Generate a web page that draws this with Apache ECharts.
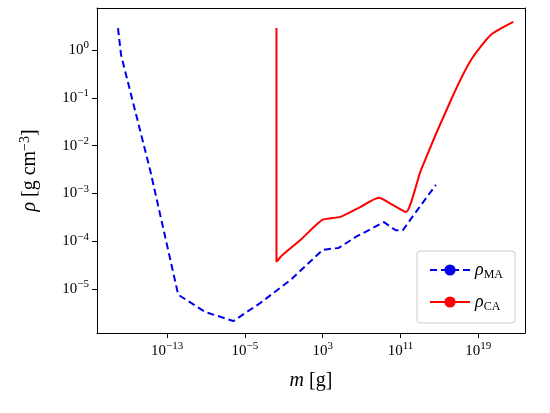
<!DOCTYPE html>
<html>
<head>
<meta charset="UTF-8">
<script src="https://cdn.jsdelivr.net/npm/echarts@6/dist/echarts.min.js"></script>
<style>html,body{margin:0;padding:0;background:#fff}</style>
</head>
<body>
<div id="main" style="width:550px;height:413px;"></div>
<script>
// exponents: log10(m [g]) and log10(rho [g cm^-3])
var maLogM = [-18.04, -17.73, -14.74, -11.85, -9.07, -6.18, -3.40, -0.30, 3.0, 4.64, 6.4, 9.3, 10.5, 11.24, 12.58, 14.64];
var maLogRho = [0.46, -0.10, -2.51, -5.12, -5.48, -5.67, -5.29, -4.81, -4.18, -4.14, -3.91, -3.60, -3.77, -3.77, -3.39, -2.82];
var caLogM = [-1.75, -1.75, -1.13, 0.73, 3.0, 4.85, 6.9, 8.77, 10.2, 11.55, 13.1, 16.2, 18.25, 20.3, 22.6];
var caLogRho = [0.46, -4.43, -4.29, -3.97, -3.55, -3.49, -3.28, -3.09, -3.24, -3.39, -2.51, -1.04, -0.21, 0.32, 0.59];
var xTicks = [-13, -5, 3, 11, 19];
var yTicks = [-5, -4, -3, -2, -1, 0];

function pairs(a, b) {
    var out = [];
    for (var i = 0; i < a.length; i++) out.push([a[i], b[i]]);
    return out;
}
function powLabel(v) {
    return '{b|10}{s|' + String(v).replace('-', '\u2212') + '}';
}
var rich = {
    b: {fontFamily: 'Liberation Serif', fontSize: 15, color: '#000'},
    s: {fontFamily: 'Liberation Serif', fontSize: 11, color: '#000', verticalAlign: 'bottom', padding: [0, 0, 9, 0]}
};
var frame = {show: true, onZero: false, lineStyle: {color: '#000'}};

var myChart = echarts.init(document.getElementById('main'));
myChart.setOption({
    backgroundColor: '#fff',
    animation: false,
    grid: {left: 97, right: 25, top: 8, bottom: 80},
    xAxis: [{
        type: 'value', min: -20.2, max: 23.8,
        name: '{i|m} [g]', nameLocation: 'middle', nameGap: 38,
        nameTextStyle: {fontFamily: 'Liberation Serif', fontSize: 20, color: '#000',
            rich: {i: {fontFamily: 'Liberation Serif', fontStyle: 'italic', fontSize: 20}}},
        axisLine: frame,
        axisTick: {customValues: xTicks, length: 5, lineStyle: {color: '#000'}},
        axisLabel: {customValues: xTicks, formatter: powLabel, rich: rich, margin: 8},
        splitLine: {show: false}
    }, {
        type: 'value', position: 'top', min: -20.2, max: 23.8,
        axisLine: frame, axisTick: {show: false}, axisLabel: {show: false}, splitLine: {show: false}
    }],
    yAxis: [{
        type: 'value', min: -5.92, max: 0.88,
        name: '{i|\u03c1} [g cm{s|\u22123}]', nameLocation: 'middle', nameGap: 55,
        nameTextStyle: {fontFamily: 'Liberation Serif', fontSize: 20, color: '#000',
            rich: {i: {fontFamily: 'Liberation Serif', fontStyle: 'italic', fontSize: 20},
                   s: {fontFamily: 'Liberation Serif', fontSize: 14, verticalAlign: 'bottom', padding: [0, 0, 10, 0]}}},
        axisLine: frame,
        axisTick: {show: true, customValues: yTicks, length: 5, lineStyle: {color: '#000'}},
        axisLabel: {customValues: yTicks, formatter: powLabel, rich: rich, margin: 8},
        splitLine: {show: false}
    }, {
        type: 'value', position: 'right', min: -5.92, max: 0.88,
        axisLine: frame, axisTick: {show: false}, axisLabel: {show: false}, splitLine: {show: false}
    }],
    legend: {
        right: 35, bottom: 90, orient: 'vertical', itemWidth: 40, itemHeight: 14, itemGap: 12,
        padding: [10, 12], borderColor: '#ccc', borderWidth: 1, borderRadius: 3,
        formatter: function (n) { return n === 'MA' ? '{r|\u03c1}{sub|MA}' : '{r|\u03c1}{sub|CA}'; },
        textStyle: {rich: {
            r: {fontFamily: 'Liberation Serif', fontStyle: 'italic', fontSize: 18, color: '#000'},
            sub: {fontFamily: 'Liberation Serif', fontSize: 12, color: '#000', verticalAlign: 'top', padding: [10, 0, 0, 0]}
        }},
        data: ['MA', 'CA']
    },
    series: [
        {name: 'MA', type: 'line', data: pairs(maLogM, maLogRho), showSymbol: false, symbol: 'none',
            color: '#0000ee', lineStyle: {type: [7, 4], width: 2, color: '#0000ee'}},
        {name: 'CA', type: 'line', data: pairs(caLogM, caLogRho), showSymbol: false, symbol: 'none', smooth: 0.2,
            color: '#ff0000', lineStyle: {width: 2, color: '#ff0000'}}
    ]
});
</script>
</body>
</html>
